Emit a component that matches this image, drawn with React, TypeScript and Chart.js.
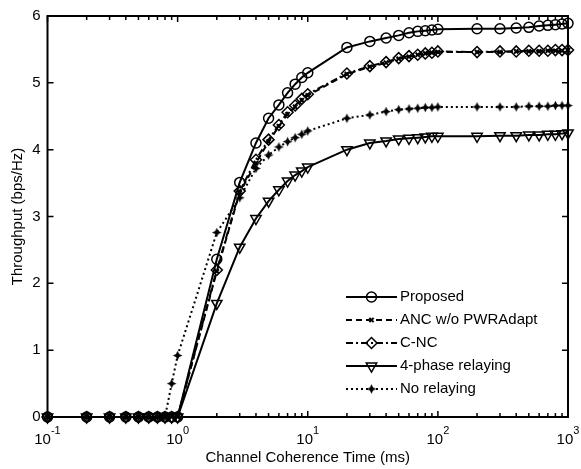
import React, { useEffect, useRef } from 'react';
import { Chart, registerables } from 'chart.js';
import { drawPoint } from 'chart.js/helpers';

Chart.register(...registerables);

// ---- data ----
const coherenceTimes = [
  0.1, 0.2, 0.3, 0.4, 0.5, 0.6, 0.7, 0.8, 0.9, 1,
  2, 3, 4, 5, 6, 7, 8, 9, 10,
  20, 30, 40, 50, 60, 70, 80, 90, 100,
  200, 300, 400, 500, 600, 700, 800, 900, 1000,
];
const proposed = [
  0, 0, 0, 0, 0, 0, 0, 0, 0, 0,
  2.36, 3.51, 4.10, 4.47, 4.67, 4.85, 4.98, 5.08, 5.15,
  5.53, 5.62, 5.67, 5.71, 5.75, 5.77, 5.78, 5.79, 5.80,
  5.81, 5.81, 5.82, 5.83, 5.85, 5.86, 5.87, 5.88, 5.89,
];
const ancNoPwrAdapt = [
  0, 0, 0, 0, 0, 0, 0, 0, 0, 0,
  2.18, 3.36, 3.80, 4.12, 4.35, 4.53, 4.64, 4.74, 4.81,
  5.13, 5.24, 5.30, 5.36, 5.39, 5.42, 5.44, 5.45, 5.46,
  5.46, 5.46, 5.47, 5.47, 5.47, 5.48, 5.48, 5.48, 5.49,
];
const cnc = [
  0, 0, 0, 0, 0, 0, 0, 0, 0, 0,
  2.20, 3.38, 3.85, 4.15, 4.37, 4.56, 4.66, 4.76, 4.83,
  5.14, 5.25, 5.31, 5.37, 5.40, 5.42, 5.44, 5.45, 5.47,
  5.46, 5.47, 5.47, 5.48, 5.48, 5.48, 5.49, 5.49, 5.49,
];
const fourPhase = [
  0, 0, 0, 0, 0, 0, 0, 0, 0, 0,
  1.70, 2.54, 2.97, 3.23, 3.40, 3.53, 3.62, 3.68, 3.74,
  4.00, 4.10, 4.13, 4.16, 4.17, 4.18, 4.19, 4.20, 4.20,
  4.20, 4.21, 4.21, 4.22, 4.22, 4.23, 4.23, 4.24, 4.25,
];
const noRelaying = [
  0, 0, 0, 0, 0, 0, 0, 0, 0.50, 0.92,
  2.76, 3.28, 3.72, 3.92, 4.04, 4.12, 4.18, 4.23, 4.28,
  4.47, 4.52, 4.57, 4.60, 4.61, 4.62, 4.63, 4.63, 4.64,
  4.64, 4.64, 4.64, 4.65, 4.65, 4.65, 4.66, 4.66, 4.66,
];
const seriesLabels = ['Proposed', 'ANC w/o PWRAdapt', 'C-NC', '4-phase relaying', 'No relaying'];
const xMajorTicks = [0.1, 1, 10, 100, 1000];
const xTickExponents = ['-1', '0', '1', '2', '3'];
const xMinorFactors = [2, 3, 4, 5, 6, 7, 8, 9];
const yTicks = [0, 1, 2, 3, 4, 5, 6];
const xTitle = 'Channel Coherence Time (ms)';
const yTitle = 'Throughput (bps/Hz)';

const FONT_FAMILY = '"Liberation Sans", Arial, Helvetica, sans-serif';

function makeStarImage(): HTMLCanvasElement {
  const c = document.createElement('canvas');
  c.width = 11;
  c.height = 11;
  const g = c.getContext('2d')!;
  const cx = 5.5, cy = 5.5, r = 4.8, w = 1.6;
  g.fillStyle = '#000';
  g.beginPath();
  g.moveTo(cx, cy - r);
  g.lineTo(cx + w, cy - w);
  g.lineTo(cx + r, cy);
  g.lineTo(cx + w, cy + w);
  g.lineTo(cx, cy + r);
  g.lineTo(cx - w, cy + w);
  g.lineTo(cx - r, cy);
  g.lineTo(cx - w, cy - w);
  g.closePath();
  g.fill();
  return c;
}

const axesPlugin = {
  id: 'matlabAxes',
  afterDatasetsDraw(chart: any) {
    const { ctx, chartArea } = chart;
    const { left, right, top, bottom } = chartArea;
    const xs = chart.scales.x;
    const ys = chart.scales.y;
    ctx.save();
    ctx.strokeStyle = '#000';
    ctx.lineWidth = 1.5;
    const major = 6;
    const minor = 4;
    ctx.beginPath();
    xMajorTicks.forEach((v, i) => {
      const px = xs.getPixelForValue(v);
      ctx.moveTo(px, bottom); ctx.lineTo(px, bottom - major);
      ctx.moveTo(px, top); ctx.lineTo(px, top + major);
      if (i < xMajorTicks.length - 1) {
        xMinorFactors.forEach((f) => {
          const mx = xs.getPixelForValue(v * f);
          ctx.moveTo(mx, bottom); ctx.lineTo(mx, bottom - minor);
          ctx.moveTo(mx, top); ctx.lineTo(mx, top + minor);
        });
      }
    });
    yTicks.forEach((v) => {
      const py = ys.getPixelForValue(v);
      ctx.moveTo(left, py); ctx.lineTo(left + major, py);
      ctx.moveTo(right, py); ctx.lineTo(right - major, py);
    });
    ctx.stroke();
    ctx.lineWidth = 2;
    ctx.strokeRect(left, top, right - left, bottom - top);

    // x tick labels with superscripts
    ctx.fillStyle = '#000';
    ctx.textBaseline = 'middle';
    ctx.textAlign = 'left';
    const baseFont = `15px ${FONT_FAMILY}`;
    const supFont = `11px ${FONT_FAMILY}`;
    xMajorTicks.forEach((v, i) => {
      const px = xs.getPixelForValue(v);
      ctx.font = baseFont;
      const wb = ctx.measureText('10').width;
      ctx.font = supFont;
      const we = ctx.measureText(xTickExponents[i]).width;
      const start = px - (wb + we) / 2;
      ctx.font = baseFont;
      ctx.fillText('10', start, 439.5);
      ctx.font = supFont;
      ctx.fillText(xTickExponents[i], start + wb, 431);
    });
    ctx.restore();
  },
  afterDraw(chart: any) {
    const { ctx } = chart;
    ctx.save();
    const rowY = [297, 320, 343, 366, 389];
    const x0 = 346, x1 = 397, tx = 400;
    chart.data.datasets.forEach((ds: any, i: number) => {
      const y = rowY[i];
      ctx.strokeStyle = '#000';
      ctx.lineWidth = ds.borderWidth;
      ctx.setLineDash(ds.borderDash || []);
      ctx.beginPath();
      ctx.moveTo(x0, y);
      ctx.lineTo(x1, y);
      ctx.stroke();
      ctx.setLineDash([]);
      ctx.fillStyle = ds.pointBackgroundColor;
      ctx.lineWidth = ds.pointBorderWidth;
      drawPoint(ctx, {
        pointStyle: ds.pointStyle,
        rotation: ds.pointRotation || 0,
        radius: ds.pointRadius,
        borderWidth: ds.pointBorderWidth,
      } as any, (x0 + x1) / 2, y);
      ctx.fillStyle = '#000';
      ctx.font = `15px ${FONT_FAMILY}`;
      ctx.textBaseline = 'middle';
      ctx.textAlign = 'left';
      ctx.fillText(seriesLabels[i], tx, y);
    });
    ctx.restore();
  },
};

export default function App() {
  const canvasRef = useRef<HTMLCanvasElement | null>(null);

  useEffect(() => {
    if (!canvasRef.current) return;
    const star = makeStarImage();
    const toPts = (arr: number[]) => coherenceTimes.map((x, i) => ({ x, y: arr[i] }));
    const common = {
      borderColor: '#000',
      borderWidth: 2,
      pointBorderColor: '#000',
      pointBorderWidth: 1.5,
      pointBackgroundColor: 'rgba(0,0,0,0)',
      tension: 0,
      clip: false as any,
      fill: false,
    };
    const chart = new Chart(canvasRef.current, {
      type: 'line',
      data: {
        datasets: [
          { ...common, label: seriesLabels[0], data: toPts(proposed), pointStyle: 'circle', pointRadius: 5 },
          { ...common, label: seriesLabels[1], data: toPts(ancNoPwrAdapt), borderDash: [6, 4], pointStyle: 'crossRot', pointRadius: 3, pointBorderWidth: 2 },
          { ...common, label: seriesLabels[2], data: toPts(cnc), borderDash: [7, 3, 2, 3], pointStyle: 'rectRot', pointRadius: 5.5 },
          { ...common, label: seriesLabels[3], data: toPts(fourPhase), pointStyle: 'triangle', pointRotation: 180, pointRadius: 6 },
          { ...common, label: seriesLabels[4], data: toPts(noRelaying), borderDash: [2, 3], pointStyle: star as any, pointRadius: 5, pointBackgroundColor: '#000' },
        ] as any,
      },
      options: {
        animation: false,
        responsive: false,
        layout: { padding: { top: 9, right: 13, left: 0, bottom: 0 } },
        plugins: { legend: { display: false }, tooltip: { enabled: false } },
        scales: {
          x: {
            type: 'logarithmic',
            min: 0.1,
            max: 1000,
            grid: { display: false, drawTicks: false },
            border: { display: false },
            ticks: { display: false },
            title: {
              display: true,
              text: xTitle,
              color: '#000',
              font: { family: FONT_FAMILY, size: 15 },
              padding: { top: 0, bottom: 2.5 },
            },
            afterFit: (s: any) => { s.height = 52; },
          },
          y: {
            min: 0,
            max: 6,
            afterBuildTicks: (s: any) => { s.ticks = yTicks.map((v) => ({ value: v })); },
            ticks: {
              color: '#000',
              font: { family: FONT_FAMILY, size: 15 },
              padding: 7,
            },
            grid: { display: false, drawTicks: false },
            border: { display: false },
            title: {
              display: true,
              text: yTitle,
              color: '#000',
              font: { family: FONT_FAMILY, size: 15 },
              padding: { top: 9, bottom: 0 },
            },
            afterFit: (s: any) => { s.width = 47.5; },
          },
        },
      } as any,
      plugins: [axesPlugin],
    });
    return () => chart.destroy();
  }, []);

  return (
    <div style={{ position: 'absolute', left: 0, top: 0, width: 581, height: 469, background: '#fff' }}>
      <canvas ref={canvasRef} width={581} height={469} style={{ display: 'block' }} />
    </div>
  );
}
